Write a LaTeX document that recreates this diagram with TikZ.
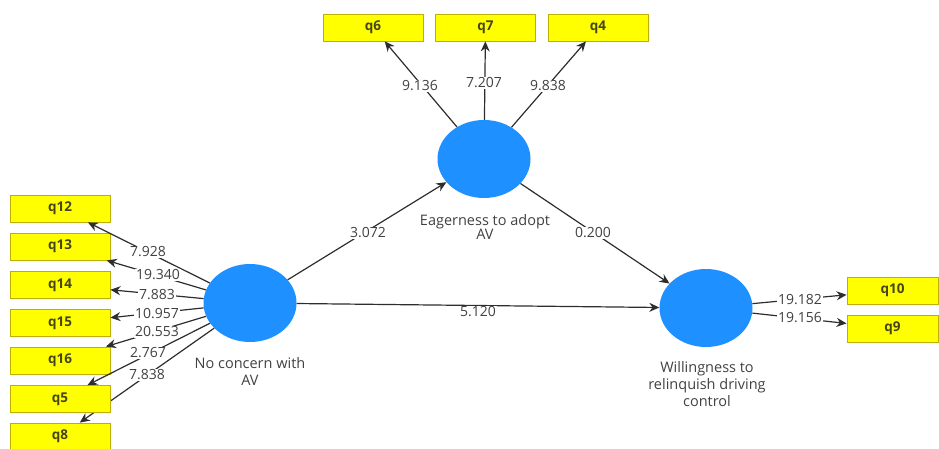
\documentclass[tikz,border=0pt]{standalone}
\usepackage{fontspec}
\setmainfont{Open Sans}
\usetikzlibrary{arrows.meta,shapes.geometric}
\definecolor{boxfill}{RGB}{255,255,0}
\definecolor{boxline}{RGB}{190,175,0}
\definecolor{boxtext}{RGB}{70,70,20}
\definecolor{lvblue}{RGB}{30,144,255}
\definecolor{lnk}{RGB}{45,45,45}
\definecolor{lbl}{RGB}{65,65,65}
\tikzset{
  ind/.style={draw=boxline, fill=boxfill, line width=0.8pt, minimum width=100pt, minimum height=27pt, inner sep=0pt, text=boxtext, font=\fontsize{13.5}{15}\selectfont\bfseries},
  lv/.style={ellipse, fill=lvblue, draw=none, minimum width=93pt, minimum height=78pt, inner sep=0pt},
  lvname/.style={text=lbl, align=center, inner sep=0pt, font=\fontsize{14.5}{17}\selectfont},
  con/.style={draw=lnk, line width=1.2pt, -{Stealth[length=10pt,width=9pt]}},
  val/.style={fill=white, text=lbl, inner sep=1pt, font=\fontsize{14}{15}\selectfont}
}
\begin{document}
\begin{tikzpicture}[x=1pt,y=-1pt]
\useasboundingbox (0,0) rectangle (939,449);
% latent variables
\node[lv] (nc) at (250,303) {};
\node[lv] (eag) at (484,159) {};
\node[lv] (wil) at (706,308) {};
% indicator boxes
\node[ind] (q12) at (60,208.5) {q12};
\node[ind] (q13) at (60,246.5) {q13};
\node[ind] (q14) at (60,285) {q14};
\node[ind] (q15) at (60,323) {q15};
\node[ind] (q16) at (60,360.5) {q16};
\node[ind] (q8) at (60,436.5) {q8};
\node[ind] (q6) at (373,27.5) {q6};
\node[ind] (q7) at (485.5,27.5) {q7};
\node[ind] (q4) at (598,27.5) {q4};
\node[ind, minimum width=91pt] (q10) at (892.5,290.5) {q10};
\node[ind, minimum width=91pt] (q9) at (892.5,328.5) {q9};
% connectors
\coordinate (q5c) at (60,399);
\draw[con] (nc) -- (q12);
\draw[con] (nc) -- (q13);
\draw[con] (nc) -- (q14);
\draw[con] (nc) -- (q15);
\draw[con] (nc) -- (q16);
\draw[con] (nc) -- (q8);
\draw[con] (eag) -- (q6);
\draw[con] (eag) -- (q7);
\draw[con] (eag) -- (q4);
\draw[con] (wil) -- (q10);
\draw[con] (wil) -- (q9);
\draw[con] (nc) -- (eag);
\draw[con] (eag) -- (wil);
\draw[con] (nc) -- (wil);
% q5 on top of the q8 connector
\node[ind] (q5) at (q5c) {q5};
\draw[con] (nc) -- (q5);
% names
\node[lvname] (ncl) at (250,371.5) {No concern with\\AV};
\node[lvname, font=\fontsize{14.5}{14}\selectfont] (eagl) at (485,227) {Eagerness to adopt\\AV};
\node[lvname] (will) at (707,384) {Willingness to\\relinquish driving\\control};
% values
\node[val] (v1) at (148,252) {7.928};
\node[val] (v2) at (158,275) {19.340};
\node[val] (v3) at (157,295) {7.883};
\node[val] (v4) at (157,313.5) {10.957};
\node[val] (v5) at (157,332) {20.553};
\node[val] (v6) at (148,353) {2.767};
\node[val] (v7) at (147,375) {7.838};
\node[val] (v8) at (420,86) {9.136};
\node[val] (v9) at (484,83) {7.207};
\node[val] (v10) at (548,86) {9.838};
\node[val] (v11) at (800,300) {19.182};
\node[val] (v12) at (800,318) {19.156};
\node[val] (v13) at (368,233) {3.072};
\node[val] (v14) at (593,233) {0.200};
\node[val] (v15) at (478,312) {5.120};
\end{tikzpicture}
\end{document}
